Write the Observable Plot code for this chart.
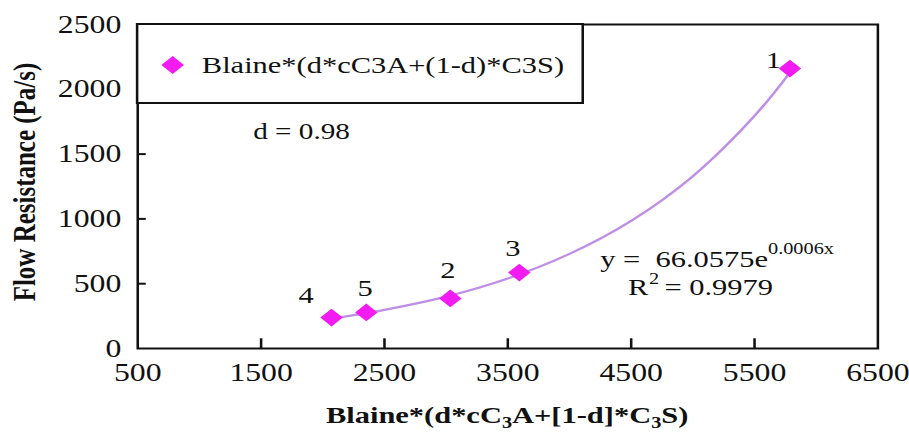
<!DOCTYPE html>
<html>
<head>
<meta charset="utf-8">
<script src="https://cdn.jsdelivr.net/npm/d3@7"></script>
<script src="https://cdn.jsdelivr.net/npm/@observablehq/plot@0.6"></script>
<style>
  html, body { margin: 0; padding: 0; background: #fff; }
  #chart { width: 909px; height: 432px; overflow: hidden; }
</style>
</head>
<body>
<div id="chart"></div>
<script>
// ---- data ----
const xTicks = [500, 1500, 2500, 3500, 4500, 5500, 6500];
const yTicks = [0, 500, 1000, 1500, 2000, 2500];
const innerXTicks = [1500, 2500, 3500, 4500, 5500];
const innerYTicks = [500, 1000, 1500, 2000];

const pointIds   = ["1", "2", "3", "4", "5"];
const blaine     = [5787, 3034, 3593, 2071, 2353];
const resistance = [2160, 386, 586, 239, 278];

const trendX = [2070, 2500, 3000, 3500, 4000, 4500, 5000, 5500, 5780];
const trendY = [230, 298, 400, 540, 730, 985, 1330, 1795, 2120];

const seriesName = "Blaine*(d*cC3A+(1-d)*C3S)";
const yTitle = "Flow Resistance (Pa/s)";
const dText = "d = 0.98";
const eqMain = "y =  66.0575e";
const eqExp = "0.0006x";
const r2Value = "= 0.9979";

// ---- tables built from the arrays ----
const points = pointIds.map((id, i) => ({id, x: blaine[i], y: resistance[i]}));
const trend = trendX.map((x, i) => ({x, y: trendY[i]}));

// The reference is horizontally stretched; draw at a narrower width and stretch.
const S = 1.27;
const W = Math.round(909 / S);
const H = 432;
const MAG = "#f21cf2";
const LINE = "#bf8fe8";
const INK = "#111";
const FONT = "'Liberation Serif', 'Times New Roman', serif";

// label offsets (px, internal) for point ids 1..5
const labelOffset = {"1": [-13, -8], "2": [-2, -28], "3": [-5, -24], "4": [-20, -22], "5": [-1, -24]};

const plot = Plot.plot({
  width: W,
  height: H,
  marginLeft: 108,
  marginRight: W - 691,
  marginTop: 24,
  marginBottom: 84,
  style: {fontFamily: FONT, fontSize: "25px", color: INK, background: "#fff", overflow: "visible", whiteSpace: "pre"},
  x: {domain: [500, 6500]},
  y: {domain: [0, 2500]},
  marks: [
    Plot.axisX(xTicks, {tickSize: 0, tickPadding: 15, fontSize: 25, label: null, fill: INK, tickFormat: d => String(d)}),
    Plot.axisY(yTicks, {tickSize: 0, tickPadding: 13, fontSize: 25, label: null, fill: INK, tickFormat: d => String(d)}),
    Plot.ruleX(innerXTicks, {y1: 0, y2: 75, stroke: INK, strokeWidth: 2}),
    Plot.ruleY(innerYTicks, {x1: 500, x2: 570, stroke: INK, strokeWidth: 2}),
    Plot.line(trend, {x: "x", y: "y", curve: "catmull-rom", stroke: LINE, strokeWidth: 2.2}),
    Plot.dot(points, {x: "x", y: "y", symbol: "diamond2", r: 8, fill: MAG, stroke: "none"}),
    ...points.map(p => Plot.text([p], {x: "x", y: "y", text: "id", dx: labelOffset[p.id][0], dy: labelOffset[p.id][1], fontSize: 24, fill: INK})),
    Plot.text([dText], {x: 1828, y: 1674, text: d => d, fontSize: 23, fill: INK}),
    Plot.text([eqMain], {x: 5609, y: 692, text: d => d, textAnchor: "end", fontSize: 24, fill: INK}),
    Plot.text([eqExp], {x: 5609, y: 692, text: d => d, textAnchor: "start", dy: -10, fontSize: 16, fill: INK}),
    Plot.text(["R"], {x: 4638, y: 474, text: d => d, textAnchor: "end", fontSize: 24, fill: INK}),
    Plot.text(["2"], {x: 4645, y: 474, text: d => d, textAnchor: "start", dy: -8, fontSize: 16, fill: INK}),
    Plot.text([r2Value], {x: 4770, y: 474, text: d => d, textAnchor: "start", fontSize: 24, fill: INK}),
    Plot.frame({stroke: INK, strokeWidth: 2})
  ]
});

const svg = d3.select(plot);
const xs = plot.scale("x"), ys = plot.scale("y");

// Legend box (overlapping the top-left corner of the frame)
const lx = xs.apply(500), ly = ys.apply(2500);
const lg = svg.append("g").attr("text-anchor", "start");
lg.append("rect").attr("x", lx).attr("y", ly).attr("width", 459 - lx).attr("height", 103 - ly)
  .attr("fill", "#fff").attr("stroke", INK).attr("stroke-width", 2);
lg.append("path").attr("d", d3.symbol(d3.symbolDiamond2, Math.PI * 64)())
  .attr("transform", `translate(136,65)`).attr("fill", MAG);
lg.append("text").attr("x", 159).attr("y", 65).attr("dy", "0.34em").attr("text-anchor", "start")
  .attr("font-size", 24).attr("fill", INK).text(seriesName);

// Y-axis title
svg.append("text").attr("transform", `translate(19,182) rotate(-90)`)
  .attr("text-anchor", "middle").attr("dy", "0.34em")
  .attr("font-size", 25).attr("font-weight", "bold").attr("fill", INK).text(yTitle);

// X-axis title with subscripts
const xt = svg.append("text").attr("x", (xs.range[0] + xs.range[1]) / 2).attr("y", 423)
  .attr("text-anchor", "middle").attr("font-size", 24).attr("font-weight", "bold").attr("fill", INK);
const parts = [["Blaine*(d*cC", 0], ["3", 1], ["A+[1-d]*C", 0], ["3", 1], ["S)", 0]];
let prevSub = false;
parts.forEach(([t, sub]) => {
  const ts = xt.append("tspan").text(t);
  if (sub) { ts.attr("font-size", 16).attr("dy", 5); prevSub = true; }
  else if (prevSub) { ts.attr("dy", -5); prevSub = false; }
});

plot.setAttribute("width", 909);
plot.setAttribute("height", H);
plot.setAttribute("preserveAspectRatio", "none");
plot.style.width = "909px";
plot.style.height = H + "px";
plot.style.maxWidth = "none";

document.getElementById("chart").appendChild(plot);
</script>
</body>
</html>
